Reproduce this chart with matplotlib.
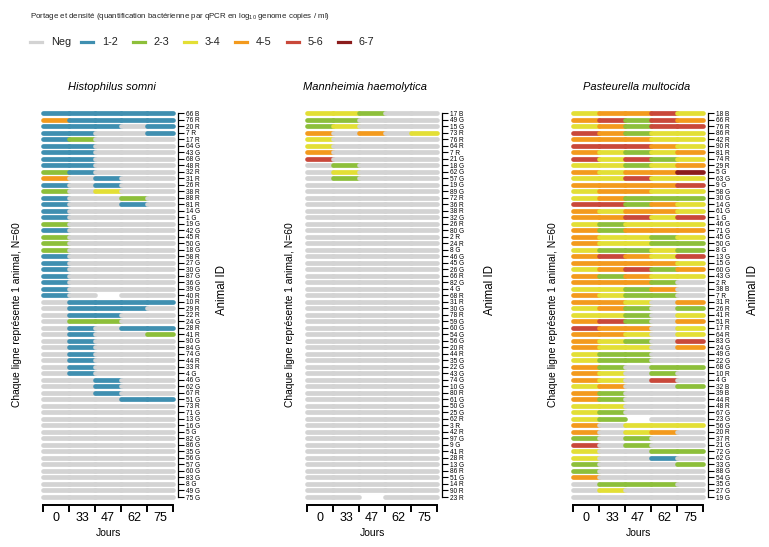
import matplotlib
matplotlib.use("Agg")
import matplotlib.pyplot as plt
from matplotlib.lines import Line2D
from matplotlib import font_manager

# classes de densité (log10 copies / ml)
legend_labels = ["Neg", "1-2", "2-3", "3-4", "4-5", "5-6", "6-7"]
legend_colors = ["#d3d3d3", "#3f8fb0", "#8dbf3a", "#e3df35", "#f39a1d", "#c9483a", "#8b1c1c"]

jours = ["0", "33", "47", "62", "75"]
especes = ["Histophilus somni", "Mannheimia haemolytica", "Pasteurella multocida"]

# une chaîne par animal : classe par jour (0 = Neg, 1..6 = classes, "-" = manquant)
hs_rows = [
    "11111", "41111", "11101", "11001", "12000", "11000", "11000", "11000", "11000", "21000",
    "40100", "10100", "20300", "10020", "10010", "10000", "10000", "20000", "10000", "20000",
    "20000", "20000", "10000", "10000", "10000", "10000", "10000", "10000", "10-00", "01111",
    "01110", "01100", "02200", "01011", "01002", "01000", "01000", "01000", "01000", "01000",
    "01000", "00100", "00100", "00100", "00011", "00000", "00000", "00000", "00000", "00000",
    "00000", "00000", "00000", "00000", "00000", "00000", "00000", "00000", "00000", "00000",
]
hs_ids = [
    "66 B", "76 R", "20 R", "7 R", "17 R", "64 G", "43 G", "68 G", "48 R", "32 R",
    "31 R", "26 R", "38 R", "88 R", "81 R", "14 G", "1 G", "19 G", "42 G", "45 R",
    "50 G", "18 G", "58 R", "27 G", "30 G", "87 G", "36 G", "39 G", "40 R", "10 R",
    "29 R", "22 R", "24 G", "28 R", "41 R", "90 G", "84 G", "74 G", "44 R", "33 R",
    "4 G", "46 G", "62 G", "67 R", "51 G", "73 R", "71 G", "13 G", "16 G", "5 G",
    "82 G", "86 G", "35 G", "56 G", "57 G", "60 G", "83 G", "8 G", "49 G", "75 G",
]

mh_rows = [
    "33200", "22000", "23000", "40403", "30000", "30000", "40000", "50000", "02000", "03000",
    "02000", "00000", "00000", "00000", "00000", "00000", "00000", "00000", "00000", "00000",
    "00000", "00000", "00000", "00000", "00000", "00000", "00000", "00000", "00000", "00000",
    "00000", "00000", "00000", "00000", "00000", "00000", "00000", "00000", "00000", "00000",
    "00000", "00000", "00000", "00000", "00000", "00000", "00000", "00000", "00000", "00000",
    "00000", "00000", "00000", "00000", "00000", "00000", "00000", "00000", "00000", "00-00",
]
mh_ids = [
    "17 B", "49 G", "15 G", "73 R", "76 R", "64 R", "7 R", "21 G", "18 G", "62 G",
    "57 G", "19 G", "89 G", "72 R", "36 R", "38 R", "32 G", "26 R", "80 G", "2 R",
    "24 R", "8 G", "46 G", "45 G", "26 G", "66 R", "82 G", "4 G", "68 R", "31 R",
    "30 G", "78 R", "59 G", "60 G", "54 G", "56 G", "20 R", "44 R", "35 G", "22 G",
    "43 G", "74 G", "10 G", "80 R", "61 G", "50 G", "25 G", "62 R", "3 R", "42 R",
    "97 G", "9 G", "41 R", "28 R", "13 G", "86 R", "51 G", "14 R", "90 R", "23 R",
]

pm_rows = [
    "34453", "45254", "34255", "54233", "44433", "55543", "43234", "53523", "33234", "43446",
    "33533", "44445", "34433", "34222", "55243", "43443", "44535", "32333", "42444", "43323",
    "43322", "32232", "45435", "44443", "34524", "42433", "44420", "33240", "43220", "44304",
    "34202", "33203", "45204", "54403", "44303", "43205", "43304", "32200", "32200", "42022",
    "43020", "43050", "34002", "42000", "42000", "33000", "32000", "32-00", "40333", "40340",
    "20200", "50200", "30022", "30010", "20002", "20000", "40000", "02220", "03000", "00000",
]
pm_ids = [
    "18 B", "66 R", "76 R", "86 R", "42 R", "90 R", "81 R", "74 R", "29 R", "5 G",
    "63 G", "9 G", "58 G", "30 G", "14 G", "61 G", "1 G", "46 G", "71 G", "45 G",
    "50 G", "8 G", "13 G", "15 G", "60 G", "43 G", "2 R", "38 B", "7 R", "31 R",
    "26 R", "41 R", "51 R", "17 R", "64 R", "83 G", "24 G", "49 G", "22 G", "68 G",
    "10 R", "4 G", "32 B", "39 B", "44 R", "48 R", "67 G", "23 G", "56 G", "20 R",
    "37 R", "21 G", "72 G", "62 G", "33 G", "88 G", "54 G", "35 G", "27 G", "19 G",
]

# police étroite si disponible
names = {f.name for f in font_manager.fontManager.ttflist}
fam = "Liberation Sans Narrow" if "Liberation Sans Narrow" in names else "Liberation Sans"
plt.rcParams["font.family"] = [fam, "DejaVu Sans"]
plt.rcParams["mathtext.default"] = "regular"

W, H = 769, 547
fig = plt.figure(figsize=(W / 100, H / 100), dpi=100)


def fx(x):
    return x / W


def fy(y):
    return 1 - y / H


# légende en haut
fig.text(fx(30), fy(17), "Portage et densité (quantification bactérienne par qPCR en "
         "log$_{10}$ genome copies / ml)", fontsize=5.7, va="center", color="#222222")
for i, (lab, col) in enumerate(zip(legend_labels, legend_colors)):
    hx = 30 + 51.3 * i
    fig.add_artist(Line2D([fx(hx), fx(hx + 12)], [fy(42), fy(42)], color=col, lw=2.3,
                          transform=fig.transFigure))
    fig.text(fx(hx + 21), fy(42), lab, fontsize=7.8, va="center", color="#222222")

panels = [(hs_rows, hs_ids), (mh_rows, mh_ids), (pm_rows, pm_ids)]
panel_x0 = [43, 307, 573]
title_x = [112, 365, 637]
animal_x = [222, 490, 753]
left_x = [17, 290, 553]
col_w = 26
row_top, row_bot = 113, 497
step = (row_bot - row_top) / 59

for p, (rows, ids) in enumerate(panels):
    x0 = panel_x0[p]
    left = x0 - 0.2 * col_w
    top = row_top - step
    bottom = row_bot + 1.25 * step
    ax = fig.add_axes([fx(left), fy(bottom), 5.4 * col_w / W, (bottom - top) / H])
    ax.set_xlim(-0.2, 5.2)
    ax.set_ylim(61.25, 0)

    # une barre par animal et par jour
    for j in range(5):
        ys, cs = [], []
        for k, row in enumerate(rows):
            if row[j] == "-":
                continue
            ys.append(k + 1)
            cs.append(legend_colors[int(row[j])])
        ax.hlines(ys, j, j + 1, colors=cs, lw=3.4, capstyle="round")

    for s in ["top", "left"]:
        ax.spines[s].set_visible(False)
    ax.spines["right"].set_bounds(1, 60)
    ax.spines["bottom"].set_bounds(0, 5)
    ax.spines["right"].set_linewidth(0.9)
    ax.spines["bottom"].set_linewidth(1.4)

    ax.yaxis.tick_right()
    ax.set_yticks(range(1, 61), labels=ids)
    ax.tick_params(axis="y", length=4.5, width=0.8, pad=1, labelsize=4.7)

    ax.set_xticks(range(6), labels=[""] * 6)
    ax.set_xticks([j + 0.5 for j in range(5)], labels=jours, minor=True)
    ax.tick_params(axis="x", which="major", length=5, width=1.4)
    ax.tick_params(axis="x", which="minor", length=0, labelsize=9, pad=5)
    ax.set_xlabel("Jours", fontsize=7.5, labelpad=3)

    fig.text(fx(title_x[p]), fy(87), especes[p], style="italic", fontsize=8,
             ha="center", va="center")
    fig.text(fx(animal_x[p]), fy(290), "Animal ID", rotation=90, fontsize=8.3,
             ha="center", va="center")
    fig.text(fx(left_x[p]), fy(315), "Chaque ligne représente 1 animal, N=60",
             rotation=90, fontsize=7.4, ha="center", va="center")

fig.savefig("out.png", dpi=100)
